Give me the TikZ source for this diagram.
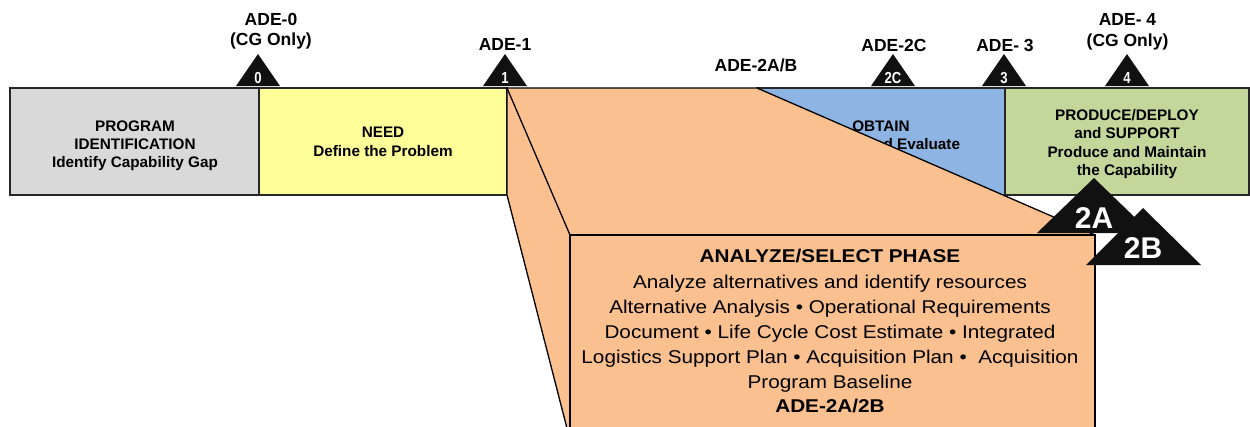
\documentclass[tikz,border=0pt]{standalone}
\usepackage{fontspec}
\setmainfont{Liberation Sans}
\newfontfamily\boxfont{Liberation Sans}[FakeStretch=1.12]
\newfontfamily\narrowfont{Liberation Sans}[FakeStretch=0.82]
\definecolor{grayf}{HTML}{D9D9D9}
\definecolor{yellowf}{HTML}{FFFF99}
\definecolor{bluef}{HTML}{8DB4E2}
\definecolor{greenf}{HTML}{C4D79B}
\definecolor{orangef}{HTML}{FAC090}
\definecolor{trif}{HTML}{111111}
\begin{document}
\begin{tikzpicture}[x=1pt,y=-1pt,
  phase/.style={draw=black!85,line width=1.2pt},
  bartext/.style={font=\fontsize{15.3}{18}\selectfont\bfseries, anchor=base, inner sep=0pt},
  toplabel/.style={font=\fontsize{17.5}{20}\selectfont\bfseries, anchor=base, inner sep=0pt},
  tri/.style={fill=trif, draw=none},
  trinum/.style={font=\narrowfont\fontsize{16}{16}\selectfont\bfseries, text=white, anchor=base, inner sep=0pt},
  bigtri/.style={font=\fontsize{30}{30}\selectfont\bfseries, text=white, anchor=base, inner sep=0pt},
  bigtext/.style={font=\boxfont\fontsize{18.5}{25}\selectfont, anchor=base, inner sep=0pt},
  bigbold/.style={font=\boxfont\fontsize{18.5}{25}\selectfont\bfseries, anchor=base, inner sep=0pt},
  outline/.style={draw=black, line width=1.3pt, line join=miter}
]
\useasboundingbox (0,0) rectangle (1250,426);
\clip (0,0) rectangle (1250,426);

% phase bar
\draw[phase, fill=grayf] (10,88) rectangle (259,195);
\draw[phase, fill=yellowf] (259,88) rectangle (507,195);
\draw[phase, fill=bluef] (757,88) rectangle (1005,195);
\draw[phase, fill=greenf] (1005,88) rectangle (1249,195);

\node[bartext] (p1) at (135,131) {PROGRAM};
\node[bartext] (p2) at (135,149) {IDENTIFICATION};
\node[bartext] (p3) at (135,167) {Identify Capability Gap};
\node[bartext] (n1) at (383,137.5) {NEED};
\node[bartext] (n2) at (383,156) {Define the Problem};
\node[bartext] (o1) at (881,131) {OBTAIN};
\node[bartext] (o2) at (881,149) {Develop and Evaluate};
\node[bartext] (g1) at (1127,120) {PRODUCE/DEPLOY};
\node[bartext] (g2) at (1127,138.5) {and SUPPORT};
\node[bartext] (g3) at (1127,157) {Produce and Maintain};
\node[bartext] (g4) at (1127,175) {the Capability};

% milestone triangles
\fill[tri] (236,86) -- (258,54) -- (280,86) -- cycle;
\fill[tri] (483,86) -- (505,54) -- (527,86) -- cycle;
\fill[tri] (871,86) -- (893,54) -- (915,86) -- cycle;
\fill[tri] (982,86) -- (1004,54) -- (1026,86) -- cycle;
\fill[tri] (1105,86) -- (1127,54) -- (1149,86) -- cycle;
\node[trinum] (t0) at (258,83) {0};
\node[trinum] (t1) at (505,83) {1};
\node[trinum] (t2c) at (893,83) {2C};
\node[trinum] (t3) at (1004,83) {3};
\node[trinum] (t4) at (1127,83) {4};

% milestone labels
\node[toplabel] (l0a) at (271,25) {ADE-0};
\node[toplabel] (l0b) at (271,45.7) {(CG Only)};
\node[toplabel] (l1) at (505,50.5) {ADE-1};
\node[toplabel] (l2ab) at (756,71) {ADE-2A/B};
\node[toplabel] (l2c) at (894,51) {ADE-2C};
\node[toplabel] (l3) at (1005,51.5) {ADE- 3};
\node[toplabel] (l4a) at (1127.5,25) {ADE- 4};
\node[toplabel] (l4b) at (1127.5,46.5) {(CG Only)};

% exploded analyze/select phase
\filldraw[fill=orangef, outline] (507,88) -- (757,88) -- (1095,235) -- (1095,440) -- (570,440) -- (507,195) -- cycle;
\draw[outline] (570,235) rectangle (1095,440);
\draw[outline] (507,88) -- (570,235);

\node[bigbold] (b0) at (830,262) {ANALYZE/SELECT PHASE};
\node[bigtext] (b1) at (830,288) {Analyze alternatives and identify resources};
\node[bigtext] (b2) at (830,313) {Alternative Analysis • Operational Requirements};
\node[bigtext] (b3) at (830,338) {Document • Life Cycle Cost Estimate • Integrated};
\node[bigtext] (b4) at (830,363) {Logistics Support Plan • Acquisition Plan •\ \ Acquisition};
\node[bigtext] (b5) at (830,388) {Program Baseline};
\node[bigbold] (b6) at (830,412) {ADE-2A/2B};

% 2A / 2B milestones
\fill[tri] (1037,233) -- (1094,178) -- (1151,233) -- cycle;
\fill[tri] (1086,265) -- (1143,208) -- (1201,265) -- cycle;
\node[bigtri] (m2a) at (1094,228.3) {2A};
\node[bigtri] (m2b) at (1143,258.3) {2B};
\end{tikzpicture}
\end{document}
